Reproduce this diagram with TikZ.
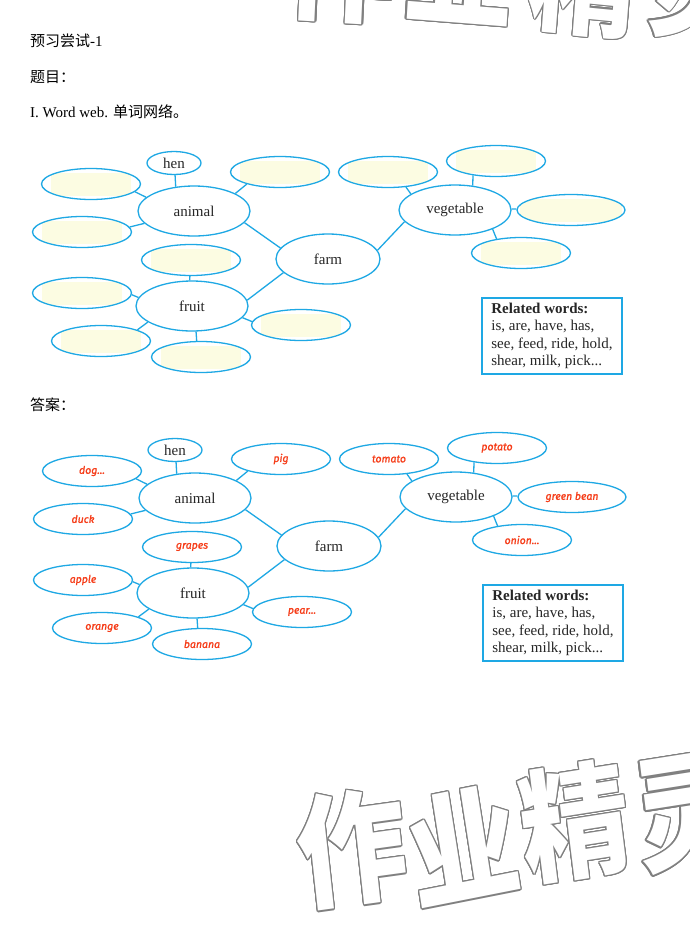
\documentclass[tikz,border=0pt]{standalone}
\usepackage{fontspec}
\setmainfont{Liberation Serif}
\newfontfamily\cjkfont{Noto Sans CJK SC}
\newfontfamily\handfont{Fira Sans}[ItalicFeatures={FakeBold=1.2}]
\usetikzlibrary{shapes.geometric, calc}
\definecolor{webblue}{RGB}{30,168,228}
\definecolor{answerred}{RGB}{246,60,24}
\definecolor{blankyellow}{RGB}{252,252,226}
\definecolor{markgray}{RGB}{128,128,128}

\newcommand{\webans}[1]{#1}
% outlined watermark character: name, position, angle, glyph
\newcommand{\wmchar}[4]{%
  \foreach \a [count=\k] in {0,22.5,...,337.5}
    \node[markedge, rotate=#3] (#1-\k) at ($(#2)+(\a:1.3pt)$) {#4};
  \node[markface, rotate=#3] (#1) at (#2) {#4};
}
% one word web, placed in a scope
\newcommand{\wordweb}{%
  \node[hub] (animal) at (194,211) {animal};
  \node[hub, minimum width=104pt] (farm) at (328,259) {farm};
  \node[hub] (vegetable) at (455,210) {vegetable};
  \node[hub] (fruit) at (192,306) {fruit};
  \node[hub, minimum width=54pt, minimum height=23pt] (hen) at (174,163) {hen};
  \node[cell] (dog) at (91,184) {\webans{dog...}};
  \node[cell] (duck) at (82,232) {\webans{duck}};
  \node[cell] (pig) at (280,172) {\webans{pig}};
  \node[cell] (grapes) at (191,260) {\webans{grapes}};
  \node[cell] (apple) at (82,293) {\webans{apple}};
  \node[cell] (orange) at (101,341) {\webans{orange}};
  \node[cell] (banana) at (201,357) {\webans{banana}};
  \node[cell] (pear) at (301,325) {\webans{pear...}};
  \node[cell] (tomato) at (388,172) {\webans{tomato}};
  \node[cell] (potato) at (496,161) {\webans{potato}};
  \node[cell=51pt, minimum width=108pt] (bean) at (571,210) {\webans{green bean}};
  \node[cell] (onion) at (521,253) {\webans{onion...}};
  \node[wordbox] (related) at (552,336) {\textbf{Related words:}\\is, are, have, has,\\see, feed, ride, hold,\\shear, milk, pick...};
  \draw[link] (hen.-85) -- (animal.127);
  \draw[link] (dog.-10) -- (animal.164);
  \draw[link] (duck.6) -- (animal.194);
  \draw[link] (pig.200) -- (animal.23);
  \draw[link] (animal.-13) -- (farm.167);
  \draw[link] (farm.197) -- (fruit.6);
  \draw[link] (grapes.-94) -- (fruit.95);
  \draw[link] (apple.-2) -- (fruit.171);
  \draw[link] (orange.17) -- (fruit.200);
  \draw[link] (banana.105) -- (fruit.-81);
  \draw[link] (pear.176) -- (fruit.-13);
  \draw[link] (farm.10) -- (vegetable.193);
  \draw[link] (tomato.-40) -- (vegetable.160);
  \draw[link] (potato.212) -- (vegetable.54);
  \draw[link] (bean.179) -- (vegetable.1);
  \draw[link] (onion.150) -- (vegetable.-27);
}

\begin{document}
\begin{tikzpicture}[
        x=1pt, y=-1pt,
        head/.style={anchor=west, inner sep=0pt, font=\fontsize{15}{18}\selectfont},
        hub/.style={ellipse, draw=webblue, line width=1.3pt, fill=white, minimum width=112pt, minimum height=50pt, inner sep=0pt, text=black!85, font=\fontsize{15}{18}\selectfont},
        leaf/.style={ellipse, draw=webblue, line width=1.3pt, fill=white, minimum width=99pt, minimum height=31pt, inner sep=0pt, text=answerred, font=\handfont\itshape\fontsize{10.5}{12}\selectfont},
        blank/.style={leaf, path picture={\fill[blankyellow] ([shift={(-#1,-11.5pt)}]path picture bounding box.center) rectangle ([shift={(#1,11.5pt)}]path picture bounding box.center);}},
        blank/.default=40pt,
        wordbox/.style={rectangle, draw=webblue, line width=1.2pt, minimum width=140pt, minimum height=76pt, inner sep=0pt, align=left, text=black!85, font=\fontsize{15}{17.5}\selectfont},
        link/.style={draw=webblue, line width=1.3pt},
        markedge/.style={inner sep=0pt, yscale=1.12, text=markgray, font=\cjkfont\bfseries\fontsize{110}{110}\selectfont},
        markface/.style={markedge, text=white}
    ]
    \path[use as bounding box, fill=white] (0,0) rectangle (690,951);
    % watermarks
    \wmchar{wt-zuo}{342,-35}{-3}{作}
    \wmchar{wt-ye}{460,-32}{-4}{业}
    \wmchar{wt-jing}{585,-22}{-5}{精}
    \wmchar{wt-ling}{705,-15}{-6}{灵}
    \wmchar{wb-zuo}{352,848}{7}{作}
    \wmchar{wb-ye}{463,845}{10}{业}
    \wmchar{wb-jing}{575,822}{8}{精}
    \wmchar{wb-ling}{690,812}{8}{灵}
    % headings
    \node[head] (title) at (30,41) {{\cjkfont 预习尝试}-1};
    \node[head] (question) at (30,77) {\cjkfont 题目：};
    \node[head] (task) at (30,112) {I. Word web. {\cjkfont 单词网络。}};
    \node[head] (answer) at (30,405) {\cjkfont 答案：};
    % question web
    \begin{scope}[name prefix=q-, cell/.style={blank=#1}, cell/.default=40pt]
        \renewcommand{\webans}[1]{}
        \wordweb
    \end{scope}
    % answer web
    \begin{scope}[shift={(1,287)}, name prefix=a-, cell/.style={leaf}]
        \wordweb
    \end{scope}
\end{tikzpicture}
\end{document}
